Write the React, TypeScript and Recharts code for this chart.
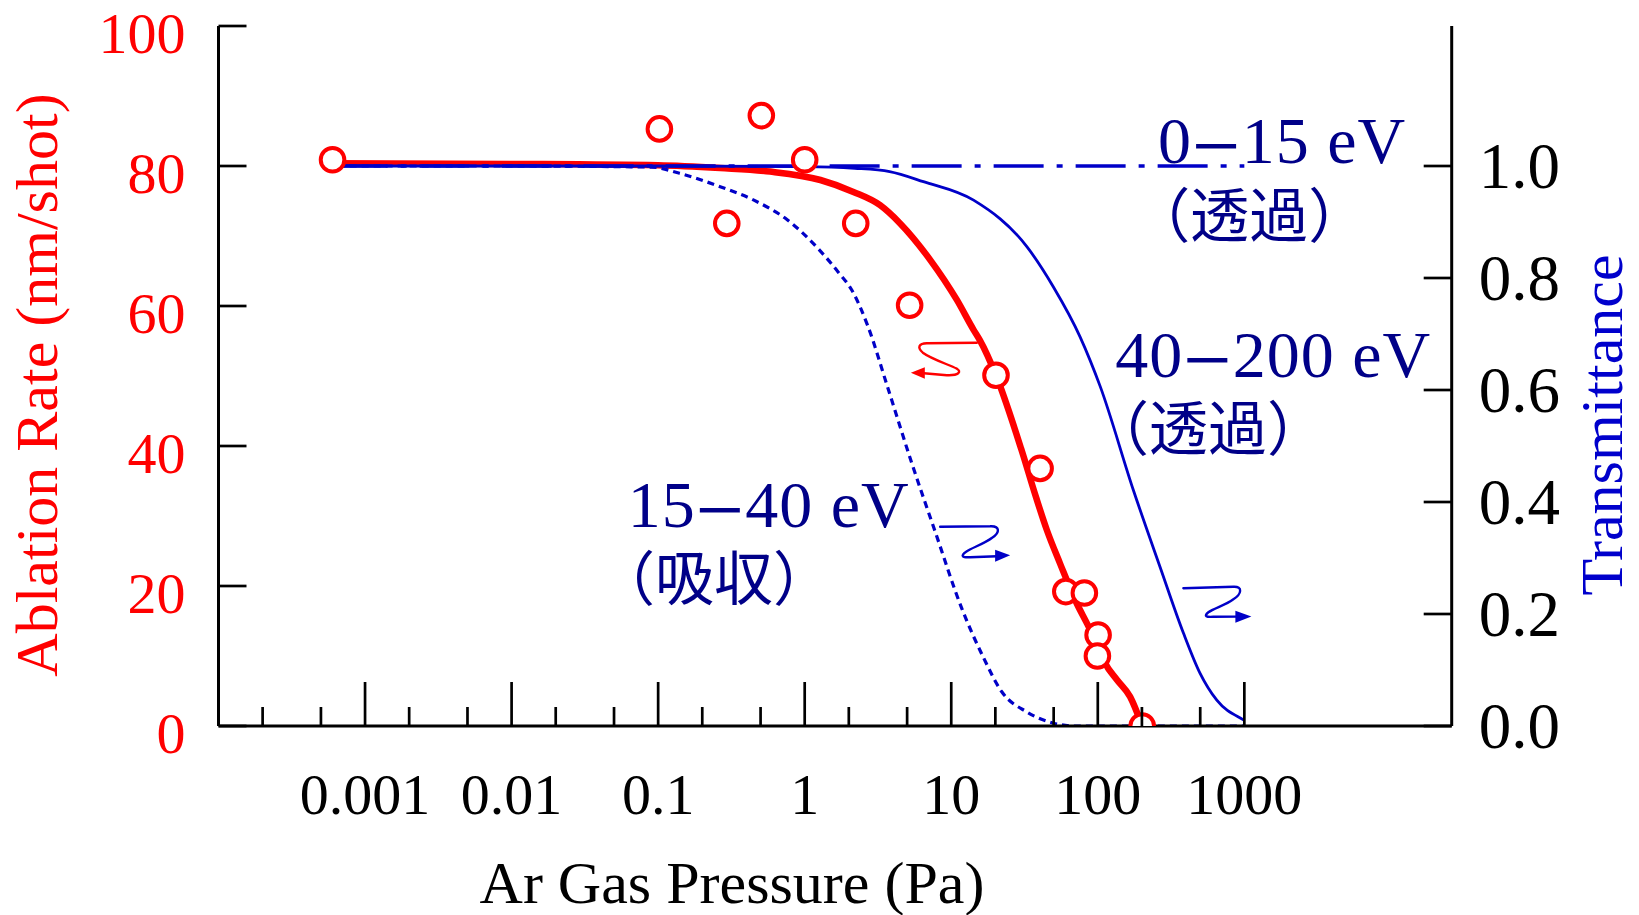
import React from 'react';
import { ComposedChart, Line, Scatter, XAxis, YAxis, ReferenceDot } from 'recharts';

// ---------- data ----------
const pressureMajor = [0.001, 0.01, 0.1, 1, 10, 100, 1000];
const pressureMajorLabels = ['0.001', '0.01', '0.1', '1', '10', '100', '1000'];
const pressureMinor = [0.0002, 0.0005, 0.002, 0.005, 0.02, 0.05, 0.2, 0.5, 2, 5, 20, 50, 200, 500];
const topTicks = [1000];
const rateTicks = [0, 20, 40, 60, 80, 100];
const transTicks = [0, 0.2, 0.4, 0.6, 0.8, 1.0];
const transTickLabels = ['0.0', '0.2', '0.4', '0.6', '0.8', '1.0'];

// measured ablation rate (open circles)
const measPressure = [0.0006, 0.102, 0.294, 0.506, 1.0, 2.23, 5.2, 20.2, 40.4, 60.5, 81, 100.5, 99.4, 201];
const measRate = [80.9, 85.3, 71.8, 87.2, 80.9, 71.8, 60.1, 50.1, 36.8, 19.2, 19.0, 13.0, 10.0, 0];

// fitted ablation rate (thick red curve)
const fitPressure = [0.0006, 0.01, 0.1, 0.265, 0.58, 1.28, 2.15, 3.27, 4.48, 7.18, 10.9, 14.2, 15.7, 20.2, 30, 38, 44.9, 55.3, 71.9, 84.2, 98.4, 112, 135, 166, 201];
const fitRate = [80.4, 80.3, 80.1, 79.7, 79.2, 78.0, 76.3, 74.4, 71.8, 66.6, 60.9, 56.6, 55.1, 50.1, 39.6, 32.6, 28.0, 23.2, 17.5, 14.7, 11.8, 9.0, 6.6, 4.2, 0];

// transmittance 0-15 eV (dash-dot)
const t0Pressure = [0.00065, 1000];
const t0Trans = [1.0, 1.0];

// transmittance 15-40 eV (dotted)
const t1Pressure = [0.00065, 0.01, 0.09, 0.14, 0.265, 0.45, 0.76, 1.28, 1.7, 2.1, 2.69, 3.7, 5.4, 7.7, 11.8, 16.6, 22, 32.8, 50, 70, 1000];
const t1Trans = [1.0, 1.0, 0.998, 0.987, 0.963, 0.939, 0.904, 0.848, 0.81, 0.778, 0.715, 0.603, 0.468, 0.35, 0.21, 0.122, 0.062, 0.025, 0.005, 0, 0];

// transmittance 40-200 eV (thin solid)
const t2Pressure = [0.00065, 0.1, 1.0, 2.2, 3.8, 6.46, 14.2, 32.8, 49.8, 75.7, 104, 175, 266, 384, 499, 649, 985, 1000];
const t2Trans = [1.0, 1.0, 0.999, 0.996, 0.99, 0.972, 0.939, 0.856, 0.784, 0.695, 0.606, 0.421, 0.284, 0.166, 0.094, 0.046, 0.011, 0.01];

// annotation texts and their anchors (pressure, ablation-rate axis)
const noteHead = ['0', '（透過）', '40', '（透過）', '15', '（吸収）'];
const noteTail = ['15 eV', '', '200 eV', '', '40 eV', ''];
const noteX = [258, 169, 131.5, 88.5, 0.0621, 0.0376];
const noteY = [80.36, 69.9, 49.9, 39.4, 28.5, 18.0];

// curly arrows anchors (pressure, ablation-rate axis)
const arrowX = [14.95, 8.4, 383.7];
const arrowY = [54.76, 28.47, 19.67];

// ---------- styles ----------
const SERIF = "'Liberation Serif', 'Times New Roman', serif";
const SERIF_CJK = "'Liberation Serif', 'Noto Sans CJK JP', serif";
const RED = '#FF0000';
const BLUE = '#0000C8';
const NAVY = '#000088';
const TITLE_BLUE = '#0000CC';
const W = 1639;
const H = 915;

const pts = (xs: number[], ys: number[]) => xs.map((x, i) => ({ x, y: ys[i] }));
const measData = pts(measPressure, measRate);
const fitData = pts(fitPressure, fitRate);
const t0Data = pts(t0Pressure, t0Trans);
const t1Data = pts(t1Pressure, t1Trans);
const t2Data = pts(t2Pressure, t2Trans);
const bottomTicks = [...pressureMinor, ...pressureMajor].sort((a, b) => a - b);

function BottomTick(props: any) {
  const { x, y, payload } = props;
  const v = payload?.value;
  const idx = pressureMajor.findIndex((m) => Math.abs(m - v) / m < 1e-6);
  const major = idx >= 0;
  return (
    <g>
      <line x1={x} x2={x} y1={y} y2={y - (major ? 44 : 19)} stroke="#000" strokeWidth={2.7} />
      {major ? (
        <text x={x} y={y + 88} textAnchor="middle" fontFamily={SERIF} fontSize={58} fill="#000">
          {pressureMajorLabels[idx]}
        </text>
      ) : null}
    </g>
  );
}

function TopTick(props: any) {
  const { x, y } = props;
  return <line x1={x} x2={x} y1={y} y2={y + 12} stroke="#000" strokeWidth={2.7} />;
}

function LeftTick(props: any) {
  const { x, y, payload } = props;
  return (
    <g>
      <line x1={x} x2={x + 28} y1={y} y2={y} stroke="#000" strokeWidth={2.7} />
      <text x={x - 33} y={y + 27} textAnchor="end" fontFamily={SERIF} fontSize={58} fill={RED}>
        {String(payload?.value)}
      </text>
    </g>
  );
}

function RightTick(props: any) {
  const { x, y, payload } = props;
  const idx = transTicks.findIndex((t) => Math.abs(t - payload?.value) < 1e-9);
  return (
    <g>
      <line x1={x - 28} x2={x} y1={y} y2={y} stroke="#000" strokeWidth={2.7} />
      <text x={x + 27} y={y + 22} textAnchor="start" fontFamily={SERIF} fontSize={65} fill="#000">
        {transTickLabels[idx]}
      </text>
    </g>
  );
}

const arrowPaths = [
  'M0,0 L-50,0.5 C-58,0.5 -60,5 -54,10 C-46,16 -28,22 -20,26 C-15,29 -18,33 -30,32.5 L-53,30.5',
  'M0,0 L50,-0.5 C60,-1 60,6 52,11 C44,17 32,21 26,25 C20,29 22,31 30,30.5 L57,29.5',
  'M0,0 L50,-1.5 C60,-2 58,6 50,11 C42,17 30,20 25,24 C20,28 23,29 30,28.5 L54,28.3',
];
const arrowHeads = [
  [[-66, 30], [-52, 24.5], [-52, 36]],
  [[70, 28.5], [55, 23], [55, 35]],
  [[68, 28.3], [52, 22.5], [52, 34.5]],
];
const arrowColors = [RED, BLUE, BLUE];

function NoteLabel(props: any) {
  const { cx, cy, i } = props;
  const tail = noteTail[i];
  if (!tail) {
    return (
      <text x={cx} y={cy} textAnchor="start" fontFamily={SERIF_CJK} fontSize={59} fill={NAVY}>
        {noteHead[i]}
      </text>
    );
  }
  return (
    <text x={cx} y={cy} textAnchor="start" fontFamily={SERIF} fontSize={66} letterSpacing={1} fill={NAVY}>
      <tspan>{noteHead[i]}</tspan>
      <tspan fontSize={86} dy={12}>−</tspan>
      <tspan dy={-12}>{tail}</tspan>
    </text>
  );
}

export default function App() {
  return (
    <div style={{ position: 'absolute', left: 0, top: 0, width: W, height: H, background: '#fff' }}>
      <ComposedChart width={W} height={H} margin={{ top: 26, right: 0, bottom: 0, left: 0 }}>
        <XAxis
          xAxisId="x"
          dataKey="x"
          type="number"
          scale="log"
          domain={[0.0001, 26000]}
          allowDataOverflow
          ticks={bottomTicks}
          interval={0}
          tick={(p: any) => <BottomTick {...p} />}
          tickLine={false}
          tickSize={0}
          tickMargin={0}
          axisLine={{ stroke: '#000', strokeWidth: 3 }}
          height={189}
          label={{
            content: (p: any) => {
              const vb = p.viewBox || { x: 218.5, y: 726, width: 1233, height: 189 };
              return (
                <text x={vb.x + 513.5} y={vb.y + 177} textAnchor="middle" fontFamily={SERIF} fontSize={60} fill="#000">
                  Ar Gas Pressure (Pa)
                </text>
              );
            },
          }}
        />
        <XAxis
          xAxisId="top"
          orientation="top"
          type="number"
          scale="log"
          domain={[0.0001, 26000]}
          allowDataOverflow
          ticks={topTicks}
          interval={0}
          tick={(p: any) => <TopTick {...p} />}
          tickLine={false}
          tickSize={0}
          tickMargin={0}
          axisLine={{ stroke: '#000', strokeWidth: 3 }}
          height={0}
        />
        <YAxis
          yAxisId="left"
          type="number"
          domain={[0, 100]}
          allowDataOverflow
          ticks={rateTicks}
          interval={0}
          tick={(p: any) => <LeftTick {...p} />}
          tickLine={false}
          tickSize={0}
          tickMargin={0}
          axisLine={{ stroke: '#000', strokeWidth: 3 }}
          width={218.5}
          label={{
            content: (p: any) => {
              const vb = p.viewBox || { x: 0, y: 26, width: 218.5, height: 700 };
              const cx = vb.x + 57;
              const cy = vb.y + vb.height / 2 + 9;
              return (
                <text x={cx} y={cy} transform={`rotate(-90 ${cx} ${cy})`} textAnchor="middle" fontFamily={SERIF} fontSize={60} fill={RED}>
                  Ablation Rate (nm/shot)
                </text>
              );
            },
          }}
        />
        <YAxis
          yAxisId="right"
          orientation="right"
          type="number"
          domain={[0, 1.25]}
          allowDataOverflow
          ticks={transTicks}
          interval={0}
          tick={(p: any) => <RightTick {...p} />}
          tickLine={false}
          tickSize={0}
          tickMargin={0}
          axisLine={{ stroke: '#000', strokeWidth: 3 }}
          width={187.3}
          label={{
            content: (p: any) => {
              const vb = p.viewBox || { x: 1451.7, y: 26, width: 187.3, height: 700 };
              const cx = vb.x + 170.3;
              const cy = vb.y + vb.height / 2 + 49;
              return (
                <text x={cx} y={cy} transform={`rotate(-90 ${cx} ${cy})`} textAnchor="middle" fontFamily={SERIF} fontSize={60} fill={TITLE_BLUE}>
                  Transmittance
                </text>
              );
            },
          }}
        />

        <Line
          xAxisId="x"
          yAxisId="left"
          data={fitData}
          dataKey="y"
          type="monotone"
          stroke={RED}
          strokeWidth={6.5}
          dot={false}
          activeDot={false}
          isAnimationActive={false}
        />
        <Line
          xAxisId="x"
          yAxisId="right"
          data={t1Data}
          dataKey="y"
          type="monotone"
          stroke={BLUE}
          strokeWidth={3.2}
          strokeDasharray="7 5"
          dot={false}
          activeDot={false}
          isAnimationActive={false}
        />
        <Line
          xAxisId="x"
          yAxisId="right"
          data={t0Data}
          dataKey="y"
          type="linear"
          stroke={BLUE}
          strokeWidth={3.3}
          strokeDasharray="50 13 6 13"
          dot={false}
          activeDot={false}
          isAnimationActive={false}
        />
        <Line
          xAxisId="x"
          yAxisId="right"
          data={t2Data}
          dataKey="y"
          type="monotone"
          stroke={BLUE}
          strokeWidth={2.8}
          dot={false}
          activeDot={false}
          isAnimationActive={false}
        />
        <Scatter
          xAxisId="x"
          yAxisId="left"
          data={measData}
          dataKey="y"
          isAnimationActive={false}
          shape={(p: any) => <circle cx={p.cx} cy={p.cy} r={11.8} fill="#fff" stroke={RED} strokeWidth={4} />}
        />

        {noteHead.map((t, i) => (
          <ReferenceDot
            key={'n' + i}
            xAxisId="x"
            yAxisId="left"
            x={noteX[i]}
            y={noteY[i]}
            r={0}
            ifOverflow="visible"
            shape={(p: any) => <NoteLabel cx={p.cx} cy={p.cy} i={i} />}
          />
        ))}

        {arrowX.map((ax, i) => (
          <ReferenceDot
            key={'a' + i}
            xAxisId="x"
            yAxisId="left"
            x={ax}
            y={arrowY[i]}
            r={0}
            ifOverflow="visible"
            shape={(p: any) => (
              <g transform={`translate(${p.cx},${p.cy})`}>
                <path d={arrowPaths[i]} fill="none" stroke={arrowColors[i]} strokeWidth={2.4} strokeLinecap="round" />
                <polygon points={arrowHeads[i].map((q) => q.join(',')).join(' ')} fill={arrowColors[i]} />
              </g>
            )}
          />
        ))}
      </ComposedChart>
    </div>
  );
}
